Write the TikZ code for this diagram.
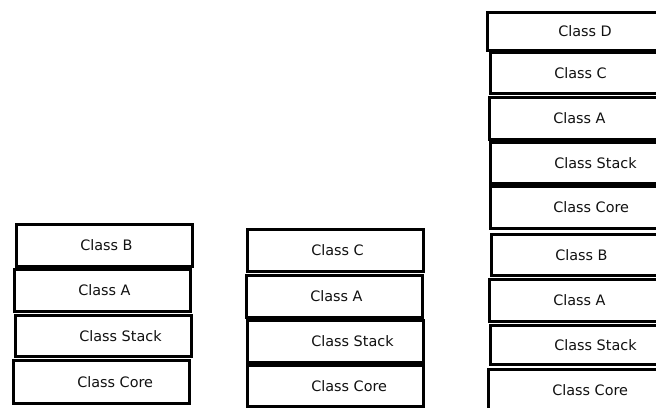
\documentclass[tikz,border=0pt]{standalone}
\usepackage{fontspec}
\setmainfont{DejaVu Sans}
\usetikzlibrary{positioning}
\definecolor{ink}{HTML}{111111}
\tikzset{
  every node/.style={text=ink},
  classbox/.style={draw=black, fill=white, line width=1.9pt, anchor=north west,
    minimum width=132pt, minimum height=31.5pt, inner sep=0pt},
  classname/.style={inner sep=0pt, font=\fontsize{10.8}{12}\selectfont}
}

\begin{document}
\begin{tikzpicture}[x=0.75pt,y=-0.75pt]
\useasboundingbox (0,0) rectangle (656,407);
\clip (0,0) rectangle (656,407);

% ---------------------------------------------------------------------------
% Stack 1: Core, Stack, A, B
% ---------------------------------------------------------------------------
\node[classbox] (oneB) at (15,223) {};
\node[classbox] (oneA) at (13,268) {};
\node[classbox, minimum height=30.75pt] (oneStack) at (14,314) {};
\node[classbox, minimum height=32.25pt] (oneCore) at (12,359) {};

\node[classname, right=48.75pt of oneB.west] {Class B};
\node[classname, right=48.75pt of oneA.west] {Class A};
\node[classname, right=48.75pt of oneStack.west] {Class Stack};
\node[classname, right=48.75pt of oneCore.west] {Class Core};

% ---------------------------------------------------------------------------
% Stack 2: Core, Stack, A, C
% ---------------------------------------------------------------------------
\node[classbox] (twoC) at (246,228) {};
\node[classbox] (twoA) at (245,274) {};
\node[classbox] (twoStack) at (246,319) {};
\node[classbox, minimum height=30.75pt] (twoCore) at (246,364) {};

\node[classname, right=48.75pt of twoC.west] {Class C};
\node[classname, right=48.75pt of twoA.west] {Class A};
\node[classname, right=48.75pt of twoStack.west] {Class Stack};
\node[classname, right=48.75pt of twoCore.west] {Class Core};

% ---------------------------------------------------------------------------
% Stack 3: both stacks merged, D on top
% ---------------------------------------------------------------------------
\node[classbox, minimum height=28.5pt] (threeD) at (486,11) {};
\node[classbox, minimum height=30.75pt] (threeC) at (489,51) {};
\node[classbox] (threeA) at (488,96) {};
\node[classbox, minimum height=30.75pt] (threeStack) at (489,141) {};
\node[classbox] (threeCore) at (489,185) {};
\node[classbox, minimum height=30.75pt] (threeB) at (490,233) {};
\node[classbox] (threeAA) at (488,278) {};
\node[classbox, minimum height=29.25pt] (threeSStack) at (489,324) {};
\node[classbox] (threeCCore) at (487,368) {};

\node[classname, right=54pt of threeD.west] {Class D};
\node[classname, right=48.75pt of threeC.west] {Class C};
\node[classname, right=48.75pt of threeA.west] {Class A};
\node[classname, right=48.75pt of threeStack.west] {Class Stack};
\node[classname, right=48pt of threeCore.west] {Class Core};
\node[classname, right=48.75pt of threeB.west] {Class B};
\node[classname, right=48.75pt of threeAA.west] {Class A};
\node[classname, right=48.75pt of threeSStack.west] {Class Stack};
\node[classname, right=48.75pt of threeCCore.west] {Class Core};

\end{tikzpicture}
\end{document}
